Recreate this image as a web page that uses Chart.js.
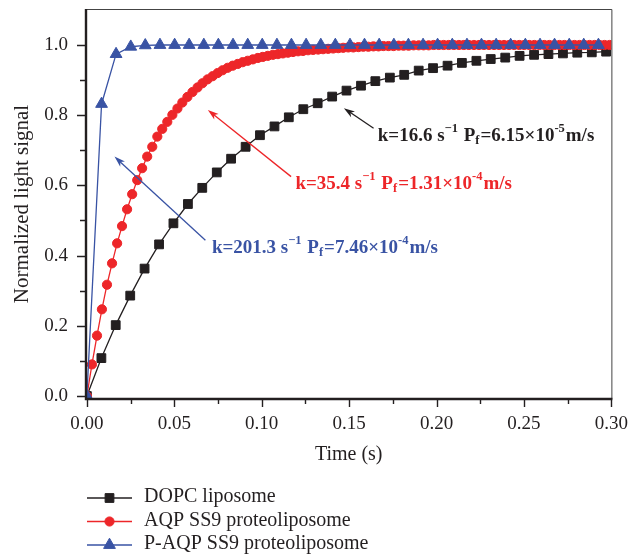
<!DOCTYPE html>
<html>
<head>
<meta charset="utf-8">
<title>Normalized light signal</title>
<script src="https://cdn.jsdelivr.net/npm/chart.js@4/dist/chart.umd.min.js"></script>
<style>
  body { margin: 0; background: #fff; }
  canvas { display: block; }
</style>
</head>
<body>
<canvas id="lightChart" width="634" height="558"></canvas>
<script>
// stopped-flow traces
const seriesNames = ['DOPC liposome', 'AQP SS9 proteoliposome', 'P-AQP SS9 proteoliposome'];

const dopcTime = [0, 0.0083, 0.0165, 0.0248, 0.0330, 0.0413, 0.0495, 0.0578, 0.0660, 0.0743,
  0.0825, 0.0908, 0.0990, 0.1073, 0.1155, 0.1238, 0.1320, 0.1403, 0.1485, 0.1568,
  0.1650, 0.1733, 0.1815, 0.1898, 0.1980, 0.2063, 0.2145, 0.2228, 0.2310, 0.2393,
  0.2475, 0.2558, 0.2640, 0.2723, 0.2805, 0.2888, 0.2970];
const dopcSignal = [0, 0.108, 0.202, 0.286, 0.363, 0.432, 0.492, 0.547, 0.593, 0.637,
  0.676, 0.710, 0.743, 0.768, 0.794, 0.817, 0.834, 0.853, 0.870, 0.884,
  0.897, 0.907, 0.915, 0.927, 0.934, 0.941, 0.949, 0.955, 0.960, 0.964,
  0.969, 0.972, 0.974, 0.976, 0.978, 0.979, 0.981];

const aqpTime = [0, 0.0029, 0.0058, 0.0086, 0.0115, 0.0144, 0.0173, 0.0201, 0.0230, 0.0259,
  0.0288, 0.0316, 0.0345, 0.0374, 0.0403, 0.0431, 0.0460, 0.0489, 0.0518, 0.0546,
  0.0575, 0.0604, 0.0633, 0.0661, 0.0690, 0.0719, 0.0748, 0.0776, 0.0805, 0.0834,
  0.0863, 0.0891, 0.0920, 0.0949, 0.0978, 0.1006, 0.1035, 0.1064, 0.1093, 0.1121,
  0.1150, 0.1179, 0.1208, 0.1236, 0.1265, 0.1294, 0.1323, 0.1351, 0.1380, 0.1409,
  0.1438, 0.1466, 0.1495, 0.1524, 0.1553, 0.1581, 0.1610, 0.1639, 0.1668, 0.1696,
  0.1725, 0.1754, 0.1783, 0.1811, 0.1840, 0.1869, 0.1898, 0.1926, 0.1955, 0.1984,
  0.2013, 0.2041, 0.2070, 0.2099, 0.2128, 0.2156, 0.2185, 0.2214, 0.2243, 0.2271,
  0.2300, 0.2329, 0.2358, 0.2386, 0.2415, 0.2444, 0.2473, 0.2501, 0.2530, 0.2559,
  0.2588, 0.2616, 0.2645, 0.2674, 0.2703, 0.2731, 0.2760, 0.2789, 0.2818, 0.2846,
  0.2875, 0.2904, 0.2933, 0.2961, 0.2990];
const aqpSignal = [0, 0.090, 0.172, 0.247, 0.317, 0.378, 0.435, 0.484, 0.532, 0.575,
  0.615, 0.649, 0.682, 0.710, 0.739, 0.761, 0.781, 0.801, 0.819, 0.836,
  0.852, 0.866, 0.879, 0.891, 0.902, 0.911, 0.920, 0.928, 0.935, 0.941,
  0.946, 0.951, 0.955, 0.959, 0.963, 0.966, 0.969, 0.972, 0.974, 0.976,
  0.978, 0.980, 0.982, 0.983, 0.985, 0.986, 0.987, 0.988, 0.989, 0.990,
  0.991, 0.992, 0.993, 0.993, 0.994, 0.995, 0.995, 0.996, 0.996, 0.997,
  0.997, 0.997, 0.998, 0.998, 0.998, 0.999, 0.999, 0.999, 0.999, 1.000,
  1.000, 1.000, 1.000, 1.000, 1.000, 1.000, 1.000, 1.000, 1.000, 1.000,
  1.000, 1.000, 1.000, 1.000, 1.000, 1.000, 1.000, 1.000, 1.000, 1.000,
  1.000, 1.000, 1.000, 1.000, 1.000, 1.000, 1.000, 1.000, 1.000, 1.000,
  1.000, 1.000, 1.000, 1.000, 1.000];

const paqpTime = [0, 0.0084, 0.0167, 0.0251, 0.0334, 0.0418, 0.0502, 0.0585, 0.0669, 0.0752,
  0.0836, 0.0920, 0.1003, 0.1087, 0.1170, 0.1254, 0.1338, 0.1421, 0.1505, 0.1588,
  0.1672, 0.1756, 0.1839, 0.1923, 0.2006, 0.2090, 0.2174, 0.2257, 0.2341, 0.2424,
  0.2508, 0.2592, 0.2675, 0.2759, 0.2842, 0.2926];
const paqpSignal = [0, 0.832, 0.974, 0.995, 0.999, 1.000, 1.000, 1.000, 1.000, 1.000,
  1.000, 1.000, 1.000, 1.000, 1.000, 1.000, 1.000, 1.000, 1.000, 1.000,
  1.000, 1.000, 1.000, 1.000, 1.000, 1.000, 1.000, 1.000, 1.000, 1.000,
  1.000, 1.000, 1.000, 1.000, 1.000, 1.000];

const xTickValues = [0, 0.025, 0.05, 0.075, 0.1, 0.125, 0.15, 0.175, 0.2, 0.225, 0.25, 0.275, 0.3];
const xTickLabels = ['0.00', '', '0.05', '', '0.10', '', '0.15', '', '0.20', '', '0.25', '', '0.30'];
const yTickValues = [0, 0.1, 0.2, 0.3, 0.4, 0.5, 0.6, 0.7, 0.8, 0.9, 1.0];
const yTickLabels = ['0.0', '', '0.2', '', '0.4', '', '0.6', '', '0.8', '', '1.0'];

const ink = '#231f20';
const red = '#ed2629';
const blue = '#3953a4';
const serif = "'Liberation Serif', 'Times New Roman', serif";

// rate constant labels, anchored in data units
const notes = [
  { color: ink, tail: [0.164, 0.763], head: [0.147, 0.820], at: [0.1664, 0.740],
    parts: [['k=16.6 s'], ['\u22121', 'sup'], [' P'], ['f', 'sub'], ['=6.15\u00d710'], ['-5', 'sup'], ['m/s']] },
  { color: red, tail: [0.1168, 0.625], head: [0.0692, 0.815], at: [0.1193, 0.604],
    parts: [['k=35.4 s'], ['\u22121', 'sup'], [' P'], ['f', 'sub'], ['=1.31\u00d710'], ['-4', 'sup'], ['m/s']] },
  { color: blue, tail: [0.0678, 0.444], head: [0.0158, 0.682], at: [0.0715, 0.421],
    parts: [['k=201.3 s'], ['\u22121', 'sup'], [' P'], ['f', 'sub'], ['=7.46\u00d710'], ['-4', 'sup'], ['m/s']] }
];

function pairs(xs, ys) {
  return xs.map((x, i) => ({ x: x, y: ys[i] }));
}

function labelFor(values, labels, v) {
  const i = values.findIndex(t => Math.abs(t - v) < 1e-9);
  return i < 0 ? '' : labels[i];
}

const figurePlugin = {
  id: 'figureDecor',
  afterDatasetsDraw(chart) {
    const ctx = chart.ctx;
    const sx = chart.scales.x, sy = chart.scales.y;
    ctx.save();
    notes.forEach(n => {
      const x0 = sx.getPixelForValue(n.tail[0]), y0 = sy.getPixelForValue(n.tail[1]);
      const x1 = sx.getPixelForValue(n.head[0]), y1 = sy.getPixelForValue(n.head[1]);
      const ang = Math.atan2(y1 - y0, x1 - x0);
      ctx.strokeStyle = n.color;
      ctx.fillStyle = n.color;
      ctx.lineWidth = 1.3;
      ctx.beginPath();
      ctx.moveTo(x0, y0);
      ctx.lineTo(x1 - Math.cos(ang) * 6, y1 - Math.sin(ang) * 6);
      ctx.stroke();
      ctx.beginPath();
      ctx.moveTo(x1, y1);
      ctx.lineTo(x1 - Math.cos(ang) * 11 + Math.sin(ang) * 3.5, y1 - Math.sin(ang) * 11 - Math.cos(ang) * 3.5);
      ctx.lineTo(x1 - Math.cos(ang) * 8, y1 - Math.sin(ang) * 8);
      ctx.lineTo(x1 - Math.cos(ang) * 11 - Math.sin(ang) * 3.5, y1 - Math.sin(ang) * 11 + Math.cos(ang) * 3.5);
      ctx.closePath();
      ctx.fill();

      let tx = sx.getPixelForValue(n.at[0]);
      const ty = sy.getPixelForValue(n.at[1]);
      ctx.textBaseline = 'middle';
      ctx.textAlign = 'left';
      n.parts.forEach(([text, kind]) => {
        const small = kind === 'sup' || kind === 'sub';
        ctx.font = 'bold ' + (small ? 12.5 : 19) + 'px ' + serif;
        const dy = kind === 'sup' ? -7 : kind === 'sub' ? 5 : 0;
        ctx.fillText(text, tx, ty + dy);
        tx += ctx.measureText(text).width + (small ? 1 : 0);
      });
    });
    ctx.restore();
  },
  afterDraw(chart) {
    const ctx = chart.ctx;
    const a = chart.chartArea;
    const sx = chart.scales.x, sy = chart.scales.y;
    ctx.save();
    // frame: heavy axes left/bottom, light box top/right
    ctx.strokeStyle = '#444';
    ctx.lineWidth = 1;
    ctx.beginPath();
    ctx.moveTo(a.left, a.top + 0.5);
    ctx.lineTo(a.right + 0.5, a.top + 0.5);
    ctx.lineTo(a.right + 0.5, a.bottom);
    ctx.stroke();
    ctx.strokeStyle = ink;
    ctx.lineWidth = 2.4;
    ctx.beginPath();
    ctx.moveTo(a.left, a.top);
    ctx.lineTo(a.left, a.bottom);
    ctx.lineTo(a.right + 1, a.bottom);
    ctx.stroke();

    ctx.lineWidth = 1.4;
    ctx.beginPath();
    yTickValues.forEach((v, i) => {
      const py = Math.round(sy.getPixelForValue(v)) + 0.5;
      ctx.moveTo(a.left, py);
      ctx.lineTo(a.left - (yTickLabels[i] ? 9 : 6), py);
    });
    xTickValues.forEach((v, i) => {
      const px = Math.round(sx.getPixelForValue(v)) + 0.5;
      ctx.moveTo(px, a.bottom);
      ctx.lineTo(px, a.bottom + (xTickLabels[i] ? 8 : 5));
    });
    ctx.stroke();

    // legend block under the axis title
    const ds = chart.data.datasets;
    ds.forEach((d, i) => {
      const ly = a.bottom + 99 + i * 23.5;
      const lx = a.left + 1;
      ctx.strokeStyle = d.borderColor;
      ctx.lineWidth = d.borderWidth;
      ctx.beginPath();
      ctx.moveTo(lx, ly);
      ctx.lineTo(lx + 45, ly);
      ctx.stroke();
      ctx.fillStyle = d.pointBackgroundColor;
      ctx.strokeStyle = d.pointBorderColor;
      ctx.lineWidth = d.pointBorderWidth;
      Chart.helpers.drawPoint(ctx, {
        pointStyle: d.pointStyle, radius: d.pointRadius, rotation: 0, borderWidth: d.pointBorderWidth
      }, lx + 22.5, ly);
      ctx.fillStyle = ink;
      ctx.font = '20px ' + serif;
      ctx.textBaseline = 'middle';
      ctx.textAlign = 'left';
      ctx.fillText(d.label, a.left + 58, ly - 1);
    });
    ctx.restore();
  }
};

const ctx = document.getElementById('lightChart').getContext('2d');
new Chart(ctx, {
  type: 'line',
  data: {
    datasets: [{
      label: seriesNames[0],
      data: pairs(dopcTime, dopcSignal),
      borderColor: ink,
      borderWidth: 1.3,
      pointStyle: 'rect',
      pointRadius: 6.2,
      pointBackgroundColor: ink,
      pointBorderColor: ink,
      pointBorderWidth: 1,
      order: 3
    }, {
      label: seriesNames[1],
      data: pairs(aqpTime, aqpSignal),
      borderColor: red,
      borderWidth: 1.3,
      pointStyle: 'circle',
      pointRadius: 4.6,
      pointBackgroundColor: red,
      pointBorderColor: red,
      pointBorderWidth: 1,
      order: 2
    }, {
      label: seriesNames[2],
      data: pairs(paqpTime, paqpSignal),
      borderColor: blue,
      borderWidth: 1.3,
      pointStyle: 'triangle',
      pointRadius: 6.8,
      pointBackgroundColor: blue,
      pointBorderColor: blue,
      pointBorderWidth: 1,
      order: 1
    }]
  },
  options: {
    responsive: false,
    animation: false,
    events: [],
    layout: { padding: { top: 9, right: 17, bottom: 89, left: 0 } },
    elements: { line: { tension: 0 } },
    scales: {
      x: {
        type: 'linear',
        min: -0.0005,
        max: 0.3,
        afterBuildTicks: s => { s.ticks = xTickValues.map(v => ({ value: v })); },
        afterFit: s => { s.height = 70; },
        grid: { drawOnChartArea: false, color: 'transparent', tickLength: 8 },
        border: { display: false },
        ticks: {
          autoSkip: false, maxRotation: 0, minRotation: 0, padding: 6, color: ink,
          font: { family: serif, size: 19 },
          callback: v => labelFor(xTickValues, xTickLabels, v)
        },
        title: {
          display: true, text: 'Time (s)', color: ink,
          font: { family: serif, size: 20 }, padding: { top: 0, bottom: 2 }
        }
      },
      y: {
        type: 'linear',
        min: -0.0085,
        max: 1.1025,
        afterBuildTicks: s => { s.ticks = yTickValues.map(v => ({ value: v })); },
        afterFit: s => { s.width = 86; s.paddingTop = 0; s.paddingBottom = 0; },
        grid: { drawOnChartArea: false, color: 'transparent', tickLength: 8 },
        border: { display: false },
        ticks: {
          autoSkip: false, padding: 10, color: ink,
          font: { family: serif, size: 19 },
          callback: v => labelFor(yTickValues, yTickLabels, v)
        },
        title: {
          display: true, text: 'Normalized light signal', color: ink,
          font: { family: serif, size: 21 }, padding: { top: 10, bottom: 0 }
        }
      }
    },
    plugins: {
      legend: { display: false },
      tooltip: { enabled: false }
    }
  },
  plugins: [figurePlugin]
});
</script>
</body>
</html>
